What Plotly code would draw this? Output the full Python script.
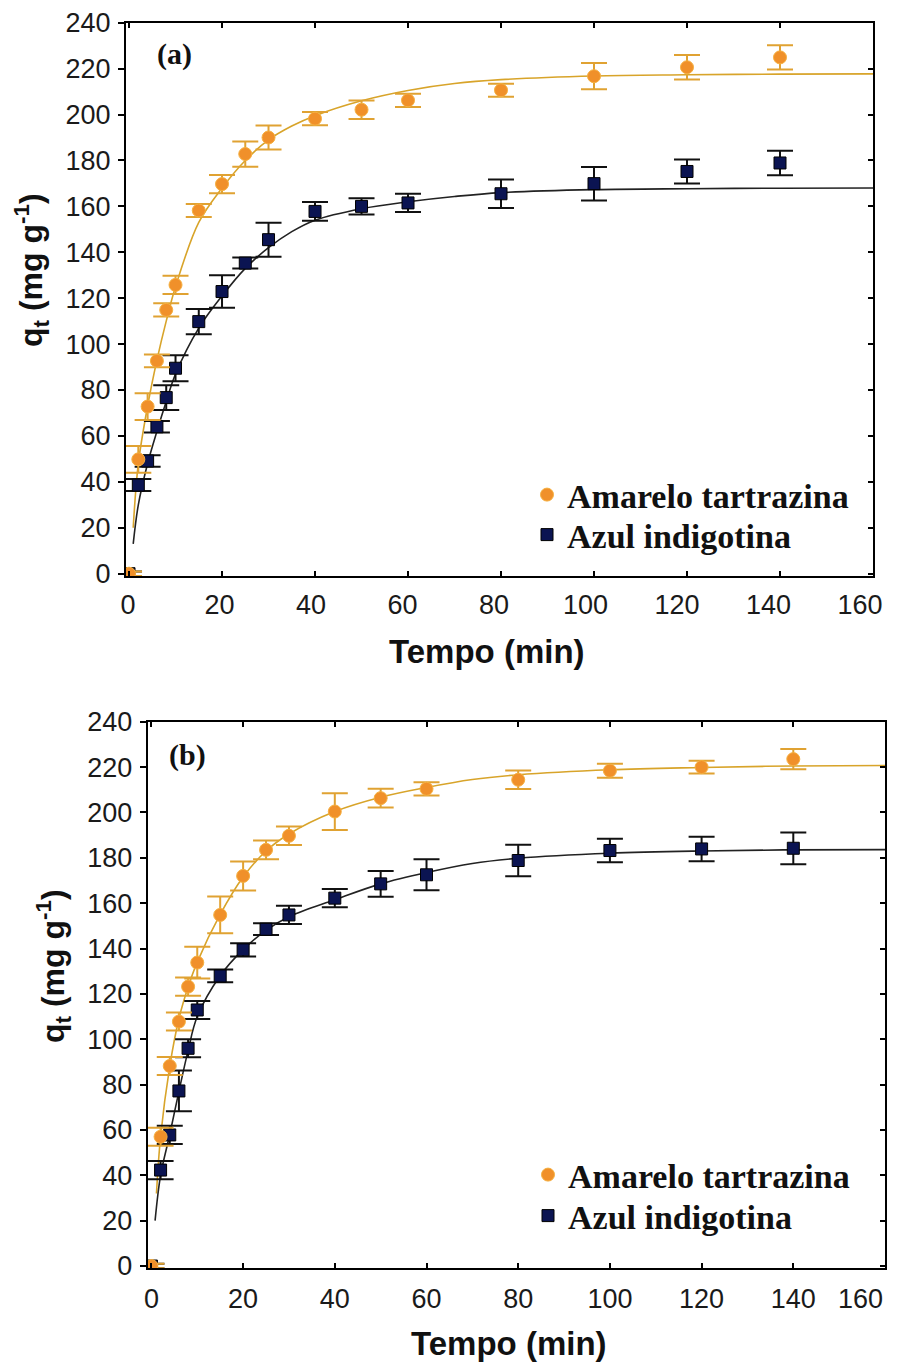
import plotly.graph_objects as go

# ---------------- data: panel (a) ----------------
t_data = [0, 2, 4, 6, 8, 10, 15, 20, 25, 30, 40, 50, 60, 80, 100, 120, 140]

a_tartrazina = [0, 49.8, 72.8, 92.7, 114.9, 125.8, 158.2, 169.7, 182.8, 190.0, 198.2, 202.1, 206.2, 210.6, 216.7, 220.6, 224.9]
a_tartrazina_err = [1, 5.8, 5.8, 2.8, 2.9, 4.0, 2.8, 4.0, 5.5, 5.2, 2.9, 4.0, 2.9, 2.8, 5.7, 5.3, 5.3]
a_indigotina = [0, 38.6, 49.1, 64.0, 76.7, 89.5, 109.8, 122.9, 135.3, 145.5, 157.8, 160.0, 161.5, 165.5, 169.9, 175.2, 178.9]
a_indigotina_err = [1, 2.6, 2.5, 2.5, 5.4, 5.7, 5.5, 7.1, 2.4, 7.4, 4.1, 3.5, 4.0, 6.2, 7.3, 5.2, 5.3]

t_fit_a_tart = [0.9, 2, 4, 6, 8, 10, 15, 20, 25, 30, 35, 40, 50, 60, 70, 80, 100, 120, 140, 160]
fit_a_tart = [20, 48, 73, 93, 110, 125, 153, 168, 180, 189, 195, 199.5, 206, 210.5, 213.5, 215.2, 216.8, 217.3, 217.6, 217.7]
t_fit_a_ind = [0.9, 2, 4, 6, 8, 10, 15, 20, 25, 30, 35, 40, 50, 60, 70, 80, 100, 120, 140, 160]
fit_a_ind = [13, 30, 48, 62, 75, 87, 107, 121, 133, 142, 149, 154, 159, 162, 164.3, 166, 167.3, 167.7, 167.9, 168]

# ---------------- data: panel (b) ----------------
b_tartrazina = [0, 57.0, 88.2, 107.8, 123.2, 133.8, 154.8, 172.0, 183.5, 189.7, 200.4, 206.3, 210.4, 214.4, 218.4, 220.0, 223.5]
b_tartrazina_err = [1, 4.0, 4.0, 4.0, 4.0, 7.0, 8.1, 6.4, 4.1, 4.1, 8.1, 4.1, 2.9, 4.1, 3.1, 2.8, 4.5]
b_indigotina = [0, 42.3, 57.8, 77.2, 96.0, 112.9, 127.9, 139.4, 148.5, 154.8, 162.2, 168.5, 172.5, 178.8, 183.2, 183.9, 184.2]
b_indigotina_err = [1, 4.0, 4.0, 9.0, 4.0, 4.0, 2.8, 2.9, 2.6, 4.0, 4.0, 5.7, 6.8, 6.9, 5.2, 5.4, 7.0]

t_fit_b_tart = [1.1, 2, 4, 6, 8, 10, 15, 20, 25, 30, 40, 50, 60, 70, 80, 100, 120, 140, 160]
fit_b_tart = [32, 57, 88, 109, 123, 134, 155, 171.5, 183, 190.5, 200.4, 206.7, 211, 214.5, 216.6, 218.8, 219.8, 220.5, 220.7]
t_fit_b_ind = [0.8, 2, 4, 6, 8, 10, 15, 20, 25, 30, 40, 50, 60, 70, 80, 100, 120, 140, 160]
fit_b_ind = [20, 40, 58, 77, 95, 110, 128, 139.5, 148, 154, 161.5, 168.5, 173.5, 177.5, 179.8, 182, 183, 183.5, 183.6]

x_ticks = [0, 20, 40, 60, 80, 100, 120, 140, 160]
y_ticks = [0, 20, 40, 60, 80, 100, 120, 140, 160, 180, 200, 220, 240]

names = ["Amarelo tartrazina", "Azul indigotina"]

# ---------------- styles ----------------
ORANGE = "#F0902A"
ORANGE_ERR = "#E0A232"
ORANGE_FIT = "#D8A42A"
NAVY = "#0B1452"
BLACK = "#111111"
W, H = 906, 1362

fig = go.Figure()

def add_panel(xa, ya, tq, qt, et, qi, ei, tft, ft, tfi, fi, leg_t, leg_i):
    fig.add_trace(go.Scatter(x=tft, y=ft, mode="lines", line=dict(color=ORANGE_FIT, width=1.6, shape="spline"),
                             xaxis=xa, yaxis=ya, showlegend=False, hoverinfo="skip"))
    fig.add_trace(go.Scatter(x=tfi, y=fi, mode="lines", line=dict(color="#222222", width=1.6, shape="spline"),
                             xaxis=xa, yaxis=ya, showlegend=False, hoverinfo="skip"))
    fig.add_trace(go.Scatter(x=tq, y=qi, mode="markers", name="<b>" + names[1] + "</b>",
                             marker=dict(symbol="square", size=12, color=NAVY, line=dict(color="#000000", width=1)),
                             error_y=dict(type="data", array=ei, color=BLACK, thickness=2, width=13),
                             xaxis=xa, yaxis=ya, legend=leg_i))
    fig.add_trace(go.Scatter(x=tq, y=qt, mode="markers", name="<b>" + names[0] + "</b>",
                             marker=dict(symbol="circle", size=13, color=ORANGE, line=dict(color="#F6B040", width=1)),
                             error_y=dict(type="data", array=et, color=ORANGE_ERR, thickness=2, width=13),
                             xaxis=xa, yaxis=ya, legend=leg_t))

add_panel("x", "y", t_data, a_tartrazina, a_tartrazina_err, a_indigotina, a_indigotina_err,
          t_fit_a_tart, fit_a_tart, t_fit_a_ind, fit_a_ind, "legend", "legend2")
add_panel("x2", "y2", t_data, b_tartrazina, b_tartrazina_err, b_indigotina, b_indigotina_err,
          t_fit_b_tart, fit_b_tart, t_fit_b_ind, fit_b_ind, "legend3", "legend4")

# empty traces to register overlay axes (right-side inside ticks, label-only x axis)
fig.add_trace(go.Scatter(x=[], y=[], xaxis="x", yaxis="y3", showlegend=False))
fig.add_trace(go.Scatter(x=[], y=[], xaxis="x2", yaxis="y4", showlegend=False))
fig.add_trace(go.Scatter(x=[], y=[], xaxis="x3", yaxis="y", showlegend=False))

TICKFONT = dict(family="Liberation Sans, Arial", size=27, color="#1a1a1a")

def xax(domain, rng, anchor, labels=True, ticktext=None):
    return dict(domain=domain, range=rng, anchor=anchor, tickvals=x_ticks,
                ticktext=ticktext if ticktext is not None else [str(v) for v in x_ticks],
                ticks="inside", ticklen=5, tickwidth=1.5, tickcolor="black", mirror="ticks",
                showline=True, linecolor="black", linewidth=2, showgrid=False, zeroline=False,
                showticklabels=labels, tickfont=TICKFONT, ticklabelstandoff=5, automargin=False)

def yax(domain, rng, anchor):
    return dict(domain=domain, range=rng, anchor=anchor, tickvals=y_ticks, ticktext=[str(v) for v in y_ticks],
                ticks="outside", ticklen=6, tickwidth=1.5, tickcolor="black", mirror=True,
                showline=True, linecolor="black", linewidth=2, showgrid=False, zeroline=False,
                tickfont=TICKFONT, ticklabelstandoff=2, automargin=False)

def yright(overlay, anchor, rng):
    return dict(overlaying=overlay, side="right", anchor=anchor, range=rng, tickvals=y_ticks,
                showticklabels=False, ticks="inside", ticklen=5, tickwidth=1.5, tickcolor="black",
                showline=False, showgrid=False, zeroline=False, automargin=False)

# pixel geometry -> paper fractions
def fx(px):
    return px / W

def fy(py):
    return 1 - py / H

top_dom_x = [fx(126), fx(873)]
top_dom_y = [fy(576), fy(22.7)]
bot_dom_x = [fx(147.7), fx(885)]
bot_dom_y = [fy(1268.3), fy(721.7)]

xr_a = [-0.65, 160]
xr_a_labels = [-0.437, 162.84]   # tick labels in the original sit slightly left of their ticks
xr_b = [-0.81, 160]
yr = [-1, 240]

LEGFONT = dict(family="Liberation Serif, Times New Roman", size=34, color="#111111")

def leg(xpx, ypx):
    return dict(x=fx(xpx), y=fy(ypx), xanchor="left", yanchor="middle", font=LEGFONT,
                bgcolor="rgba(0,0,0,0)", borderwidth=0, itemclick=False, itemdoubleclick=False)

xaxis3 = dict(overlaying="x", anchor="y", side="bottom", range=xr_a_labels, tickvals=x_ticks,
              ticktext=[str(v) for v in x_ticks], ticks="", showline=False, showgrid=False,
              zeroline=False, tickfont=TICKFONT, ticklabelstandoff=10, automargin=False)

fig.update_layout(
    width=W, height=H, margin=dict(l=0, r=0, t=0, b=0, autoexpand=False),
    paper_bgcolor="white", plot_bgcolor="white",
    xaxis=xax(top_dom_x, xr_a, "y", labels=False),
    yaxis=yax(top_dom_y, yr, "x"),
    xaxis2=xax(bot_dom_x, xr_b, "y2", ticktext=[str(v) for v in x_ticks[:-1]] + [""]),
    yaxis2=yax(bot_dom_y, yr, "x2"),
    xaxis3=xaxis3,
    yaxis3=yright("y", "x", yr),
    yaxis4=yright("y2", "x2", yr),
    legend=leg(527, 495),
    legend2=leg(527, 535),
    legend3=leg(528, 1175),
    legend4=leg(528, 1216),
    showlegend=True,
)

TITLEFONT = dict(family="Liberation Sans, Arial", size=33, color="#111111")
ann = [
    dict(text="<b>Tempo (min)</b>", x=fx(487), y=fy(652), xref="paper", yref="paper",
         showarrow=False, font=TITLEFONT, xanchor="center", yanchor="middle"),
    dict(text="<b>Tempo (min)</b>", x=fx(509), y=fy(1343), xref="paper", yref="paper",
         showarrow=False, font=TITLEFONT, xanchor="center", yanchor="middle"),
    dict(text="<b>q<sub>t</sub> (mg g<sup>-1</sup>)</b>", x=fx(31), y=fy(270), xref="paper", yref="paper",
         showarrow=False, font=dict(family="Liberation Sans, Arial", size=32, color="#111111"),
         textangle=-90, xanchor="center", yanchor="middle"),
    dict(text="<b>q<sub>t</sub> (mg g<sup>-1</sup>)</b>", x=fx(53), y=fy(966), xref="paper", yref="paper",
         showarrow=False, font=dict(family="Liberation Sans, Arial", size=32, color="#111111"),
         textangle=-90, xanchor="center", yanchor="middle"),
    dict(text="<b>(a)</b>", x=fx(174), y=fy(54), xref="paper", yref="paper", showarrow=False,
         font=dict(family="Liberation Serif, Times New Roman", size=30, color="#111111"),
         xanchor="center", yanchor="middle"),
    dict(text="<b>(b)</b>", x=fx(187), y=fy(755), xref="paper", yref="paper", showarrow=False,
         font=dict(family="Liberation Serif, Times New Roman", size=30, color="#111111"),
         xanchor="center", yanchor="middle"),
    # last tick label of panel (b), which sits left of its tick in the original
    dict(text="160", x=fx(860), y=fy(1299), xref="paper", yref="paper", showarrow=False,
         font=TICKFONT, xanchor="center", yanchor="middle"),
]
fig.update_layout(annotations=ann)

fig.write_html("out.html")
